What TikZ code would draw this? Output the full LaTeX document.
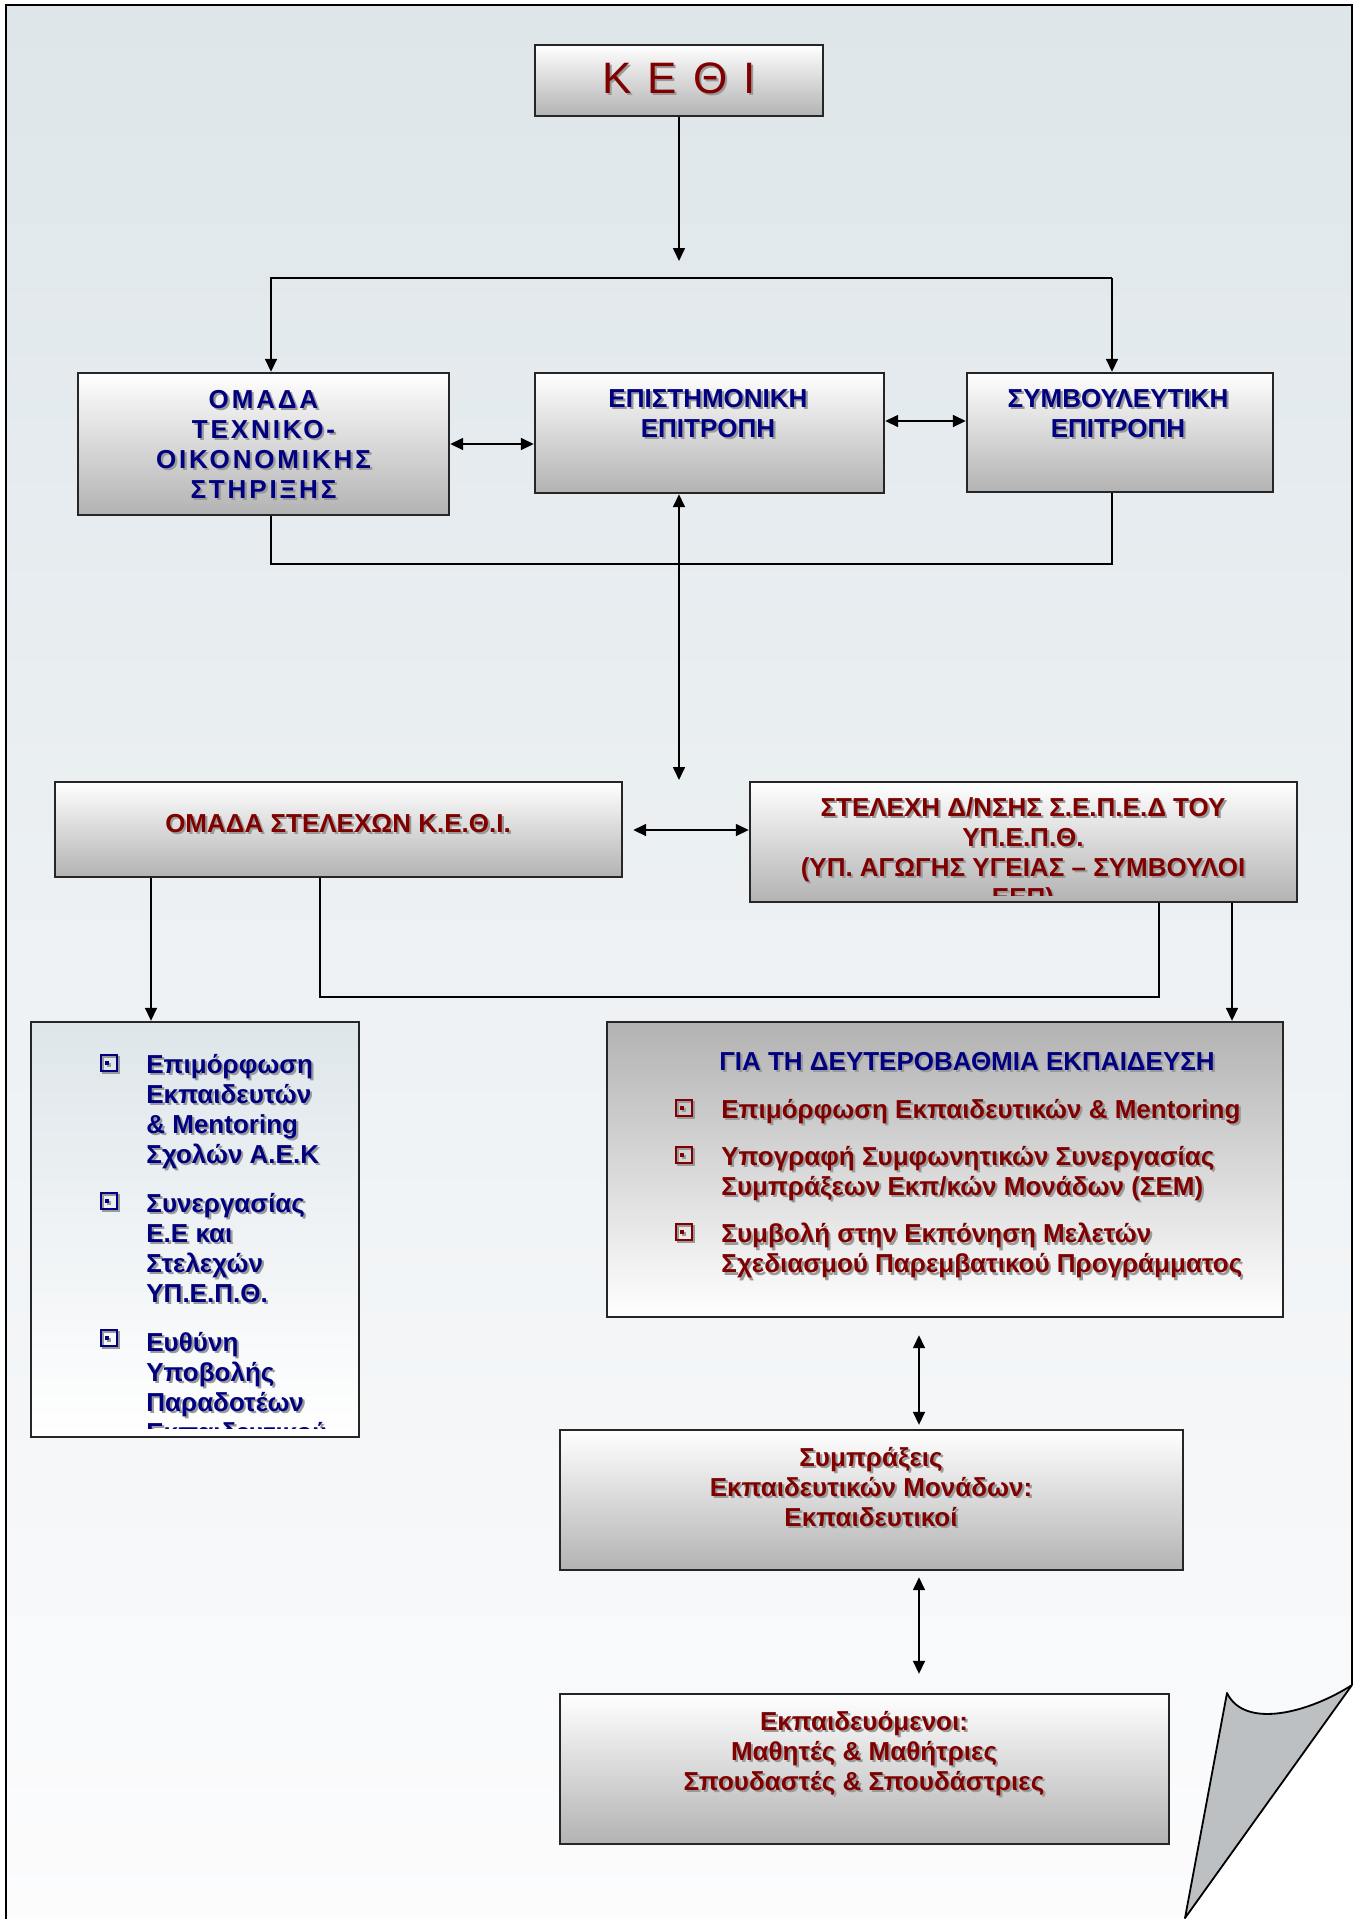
\documentclass[tikz,border=0pt]{standalone}
\usepackage{fontspec}
\setmainfont{Liberation Sans}
\newfontfamily\widefont[LetterSpace=11]{Liberation Sans}
\usetikzlibrary{arrows.meta}
\definecolor{pagetop}{HTML}{DEE6EA}
\definecolor{pagebot}{HTML}{FCFCFD}
\definecolor{flapgray}{HTML}{BCC0C3}
\definecolor{navyblue}{HTML}{000080}
\definecolor{darkred}{HTML}{800000}
\definecolor{txtshadow}{HTML}{999999}
\tikzset{
  box/.style={rectangle,draw=black!85,line width=1.2pt,top color=white,bottom color=black!30,inner sep=0pt},
  boxup/.style={box,top color=black!30,bottom color=white},
  boxpale/.style={box,top color=pagetop,bottom color=white},
  tx/.style={inner sep=0pt,anchor=north,align=center,font=\fontsize{13}{15}\selectfont\bfseries},
  txblue/.style={tx,text=navyblue},
  txred/.style={tx,text=darkred},
  txitem/.style={anchor=north west,align=left},
  kethitx/.style={inner sep=0pt,text=darkred,font=\fontsize{22}{24}\selectfont},
  bulletbox/.style={rectangle,draw=#1,line width=0.9pt,minimum size=8pt,inner sep=0pt,
    path picture={\fill[#1] ([shift={(-1.8pt,-1pt)}]path picture bounding box.center) rectangle ++(2pt,2pt);}},
  conn/.style={draw=black,line width=0.8pt}
}
\newcommand\shtext[4]{%
  \node[#3,xshift=1.1pt,yshift=-1.1pt,text=txtshadow] (#1s) at (#2) {#4};
  \node[#3] (#1) at (#2) {#4};}
\newcommand\sqbullet[3]{%
  \node[bulletbox=txtshadow,xshift=1pt,yshift=-1pt] (#1s) at (#2) {};
  \node[bulletbox=#3] (#1) at (#2) {};}

\begin{document}
\begin{tikzpicture}[x=0.5pt,y=-0.5pt,>={Triangle[length=6.5pt,width=6pt]}]
\fill[white] (0,0) rectangle (1359,1919);
\useasboundingbox (0,0) rectangle (1359,1919);
\fill[top color=pagetop,bottom color=pagebot] (6,5) -- (1352,5) -- (1352,1685) -- (1185,1919) -- (6,1919) -- cycle;
\draw[line width=1.2pt] (6,1919) -- (6,5) -- (1352,5) -- (1352,1685);
\filldraw[fill=flapgray,line width=0.9pt,line join=round] (1352,1685) .. controls (1310,1712) and (1245,1730) .. (1227,1693) -- (1185,1918) -- cycle;

\node[box,minimum width=144pt,minimum height=35.5pt] (kethi) at (679,80.5) {};
\node[box,minimum width=185.5pt,minimum height=71pt] (tech) at (263.5,444) {};
\node[box,minimum width=174.5pt,minimum height=60pt] (epist) at (709.5,433) {};
\node[box,minimum width=153pt,minimum height=59.5pt] (symv) at (1120,432.5) {};
\node[box,minimum width=283.5pt,minimum height=47.5pt] (stel) at (338.5,829.5) {};
\node[box,minimum width=273.5pt,minimum height=60pt] (sepd) at (1023.5,842) {};
\node[boxpale,minimum width=164pt,minimum height=207.5pt] (aek) at (195,1229.5) {};
\node[boxup,minimum width=338pt,minimum height=147.5pt] (deft) at (945,1169.5) {};
\node[box,minimum width=311.5pt,minimum height=70pt] (sem) at (871.5,1500) {};
\node[box,minimum width=304.5pt,minimum height=75pt] (mathites) at (864.5,1769) {};

\coordinate (kt) at (679,261);
\draw[conn,->] (kethi.south) -- (kt);
\coordinate (brl) at (271,278);
\coordinate (brr) at (1112,278);
\draw[conn,->] (brr) -- (brl) -- (brl |- tech.north);
\draw[conn,->] (brr) -- (brr |- symv.north);
\draw[conn,<->] (tech.east) -- (tech.east -| epist.west);
\draw[conn,<->] ([yshift=6pt]epist.east) -- ([yshift=6pt]epist.east -| symv.west);
\coordinate (bkl) at (271,564);
\coordinate (bkr) at (1112,564);
\draw[conn] (bkl |- tech.south) -- (bkl) -- (bkr) -- (bkr |- symv.south);
\coordinate (vt) at (679,780);
\draw[conn,<->] (vt |- epist.south) -- (vt);
\coordinate (hz) at (690,830);
\draw[conn,<->,shorten <=5pt] (stel.east |- hz) -- (sepd.west |- hz);
\coordinate (lx) at (151,950);
\draw[conn,->] (lx |- stel.south) -- (lx |- aek.north);
\coordinate (mkl) at (320,997);
\coordinate (mkr) at (1159,997);
\draw[conn] (mkl |- stel.south) -- (mkl) -- (mkr) -- (mkr |- sepd.south);
\coordinate (rx) at (1232,950);
\draw[conn,->] (rx |- sepd.south) -- (rx |- deft.north);
\coordinate (cx) at (919,1400);
\draw[conn,<->,shorten <=8.5pt,shorten >=2pt] (cx |- deft.south) -- (cx |- sem.north);
\draw[conn,<->,shorten <=3pt,shorten >=9.5pt] (cx |- sem.south) -- (cx |- mathites.north);

\shtext{tkethi}{679,78}{kethitx}{Κ\hspace{8pt}Ε\hspace{8pt}Θ\hspace{8pt}Ι}
\shtext{ttech}{263.5,444}{txblue,anchor=center,font=\widefont\fontsize{13}{15}\selectfont\bfseries}{ΟΜΑΔΑ\\ΤΕΧΝΙΚΟ-\\ΟΙΚΟΝΟΜΙΚΗΣ\\ΣΤΗΡΙΞΗΣ}
\shtext{tepist}{708,389}{txblue}{ΕΠΙΣΤΗΜΟΝΙΚΗ\\ΕΠΙΤΡΟΠΗ}
\shtext{tsymv}{1118,389}{txblue}{ΣΥΜΒΟΥΛΕΥΤΙΚΗ\\ΕΠΙΤΡΟΠΗ}
\shtext{tstel}{338,814}{txred}{ΟΜΑΔΑ ΣΤΕΛΕΧΩΝ Κ.Ε.Θ.Ι.}
\begin{scope}
\clip ([yshift=4pt]sepd.south west) rectangle (sepd.north east);
\shtext{tsepd}{1023,797}{txred}{ΣΤΕΛΕΧΗ Δ/ΝΣΗΣ Σ.Ε.Π.Ε.Δ ΤΟΥ\\ΥΠ.Ε.Π.Θ.\\(ΥΠ. ΑΓΩΓΗΣ ΥΓΕΙΑΣ – ΣΥΜΒΟΥΛΟΙ\\ΕΕΠ)}
\end{scope}

\begin{scope}
\clip ([yshift=5pt]aek.south west) rectangle (aek.north east);
\shtext{ta1}{146,1054}{txblue,txitem}{Επιμόρφωση\\Εκπαιδευτών\\\&~Mentoring\\Σχολών Α.Ε.Κ}
\shtext{ta2}{146,1193}{txblue,txitem}{Συνεργασίας\\Ε.Ε και\\Στελεχών\\ΥΠ.Ε.Π.Θ.}
\shtext{ta3}{146,1332}{txblue,txitem}{Ευθύνη\\Υποβολής\\Παραδοτέων\\Εκπαιδευτικού}
\end{scope}
\sqbullet{ba1}{109,1063}{navyblue}
\sqbullet{ba2}{109,1201}{navyblue}
\sqbullet{ba3}{109,1338}{navyblue}

\shtext{tdeft}{967,1052}{txblue}{ΓΙΑ ΤΗ ΔΕΥΤΕΡΟΒΑΘΜΙΑ ΕΚΠΑΙΔΕΥΣΗ}
\shtext{td1}{721,1099}{txred,txitem}{Επιμόρφωση Εκπαιδευτικών \& Mentoring}
\shtext{td2}{721,1146}{txred,txitem}{Υπογραφή Συμφωνητικών Συνεργασίας\\Συμπράξεων Εκπ/κών Μονάδων (ΣΕΜ)}
\shtext{td3}{721,1223}{txred,txitem}{Συμβολή στην Εκπόνηση Μελετών\\Σχεδιασμού Παρεμβατικού Προγράμματος}
\sqbullet{bd1}{684,1108}{darkred}
\sqbullet{bd2}{684,1155}{darkred}
\sqbullet{bd3}{684,1232}{darkred}

\shtext{tsem}{871,1447}{txred}{Συμπράξεις\\Εκπαιδευτικών Μονάδων:\\Εκπαιδευτικοί}
\shtext{tmath}{864,1711}{txred}{Εκπαιδευόμενοι:\\Μαθητές \& Μαθήτριες\\Σπουδαστές \& Σπουδάστριες}
\end{tikzpicture}
\end{document}
